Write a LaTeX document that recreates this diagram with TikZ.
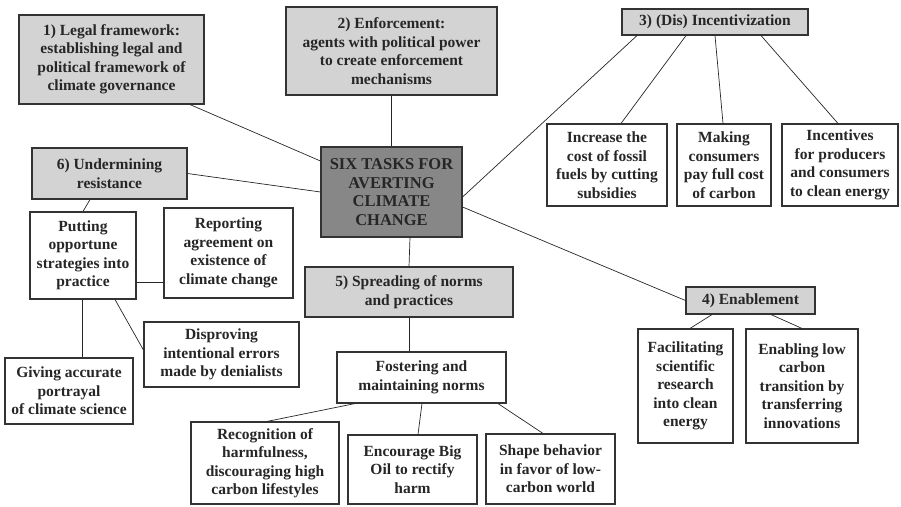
\documentclass[tikz,border=0pt]{standalone}
\usepackage{fontspec}
\setmainfont{Liberation Serif}
\begin{document}
\begin{tikzpicture}[x=1pt,y=-1pt,
  base/.style={draw=black!80, line width=1.1pt, inner sep=0pt, align=center,
    font=\fontsize{15.5}{18.5}\selectfont\bfseries, text=black!85},
  wbox/.style={base, fill=white},
  gbox/.style={base, fill={rgb,255:red,211;green,211;blue,211}},
  cbox/.style={base, fill={rgb,255:red,135;green,135;blue,135}, font=\fontsize{16.5}{18.7}\selectfont\bfseries},
  link/.style={draw=black!85, line width=0.7pt}]
\useasboundingbox (0,0) rectangle (901,506);
% main
\node[cbox, minimum width=141pt, minimum height=90pt] (c) at (391.5,192) {SIX TASKS FOR\\AVERTING\\CLIMATE\\CHANGE};
% tasks
\node[gbox, minimum width=185pt, minimum height=89pt] (n1) at (111.5,59.5) {1) Legal framework:\\establishing legal and\\political framework of\\climate governance};
\node[gbox, minimum width=211pt, minimum height=88pt] (n2) at (391.5,51) {2) Enforcement:\\agents with political power\\to create enforcement\\mechanisms};
\node[gbox, minimum width=186pt, minimum height=26pt] (n3) at (715,22) {3) (Dis) Incentivization};
\node[gbox, minimum width=129pt, minimum height=27pt] (n4) at (750.5,300.5) {4) Enablement};
\node[gbox, minimum width=208pt, minimum height=50pt] (n5) at (409,292) {5) Spreading of norms\\and practices};
\node[gbox, minimum width=155pt, minimum height=51pt] (n6) at (109.5,173.5) {6) Undermining\\resistance};
% 3 children
\node[wbox, minimum width=120pt, minimum height=82pt] (i1) at (607,165) {Increase the\\cost of fossil\\fuels by cutting\\subsidies};
\node[wbox, minimum width=94pt, minimum height=82pt] (i2) at (724,165) {Making\\consumers\\pay full cost\\of carbon};
\node[wbox, minimum width=116pt, minimum height=82pt] (i3) at (840,165) {Incentives\\for producers\\and consumers\\to clean energy};
% 4 children
\node[wbox, minimum width=95pt, minimum height=114pt] (f1) at (685.5,386) {Facilitating\\scientific\\research\\into clean\\energy};
\node[wbox, minimum width=112pt, minimum height=114pt] (f2) at (802,386) {Enabling low\\carbon\\transition by\\transferring\\innovations};
% 6 children
\node[wbox, minimum width=106pt, minimum height=87pt] (put) at (83,255.5) {Putting\\opportune\\strategies into\\practice};
\node[wbox, minimum width=129pt, minimum height=90pt] (rep) at (228.5,253) {Reporting\\agreement on\\existence of\\climate change};
\node[wbox, minimum width=155pt, minimum height=65pt] (dis) at (221.5,354.5) {Disproving\\intentional errors\\made by denialists};
\node[wbox, minimum width=128pt, minimum height=66pt] (giv) at (69,391) {Giving accurate\\portrayal\\of climate science};
% 5 children
\node[wbox, minimum width=169pt, minimum height=51pt] (fos) at (421.5,377.5) {Fostering and\\maintaining norms};
\node[wbox, minimum width=148pt, minimum height=82pt] (rec) at (265,463) {Recognition of\\harmfulness,\\discouraging high\\carbon lifestyles};
\node[wbox, minimum width=129pt, minimum height=69pt] (enc) at (412.5,469.5) {Encourage Big\\Oil to rectify\\harm};
\node[wbox, minimum width=129pt, minimum height=70pt] (sha) at (550.5,469) {Shape behavior\\in favor of low-\\carbon world};
% connectors
\draw[link] ([xshift=78.5pt]n1.south) -- ([yshift=31pt]c.west);
\draw[link] (n2.south) -- (c.north);
\draw[link] ([xshift=-78pt]n3.south) -- ([yshift=-5pt]c.east);
\draw[link] ([yshift=-15pt]c.east) -- (n4.west);
\draw[link] (c.west) -- (n6.east);
\draw[link] ([xshift=18.5pt]c.south) -- (n5.north);
\draw[link] ([xshift=-29pt]n3.south) -- ([xshift=14pt]i1.north);
\draw[link] (n3.south) -- ([xshift=-1pt]i2.north);
\draw[link] ([xshift=46pt]n3.south) -- ([xshift=-2pt]i3.north);
\draw[link] ([xshift=-38.5pt]n4.south) -- ([xshift=4.5pt]f1.north);
\draw[link] ([xshift=20.5pt]n4.south) -- (f2.north);
\draw[link] ([xshift=-19.5pt]n6.south) -- (put.north);
\draw[link] ([yshift=-26.5pt]put.east) -- ([yshift=-29pt]rep.west);
\draw[link] ([xshift=32pt]put.south) -- ([yshift=4.5pt]dis.west);
\draw[link] ([xshift=-1pt]put.south) -- ([xshift=13pt]giv.north);
\draw[link] (n5.south) -- ([xshift=-12.5pt]fos.north);
\draw[link] ([xshift=-66.5pt]fos.south) -- ([xshift=2pt]rec.north);
\draw[link] ([xshift=0.5pt]fos.south) -- ([xshift=5.5pt]enc.north);
\draw[link] ([xshift=76.5pt]fos.south) -- ([xshift=-7.5pt]sha.north);
\end{tikzpicture}
\end{document}
